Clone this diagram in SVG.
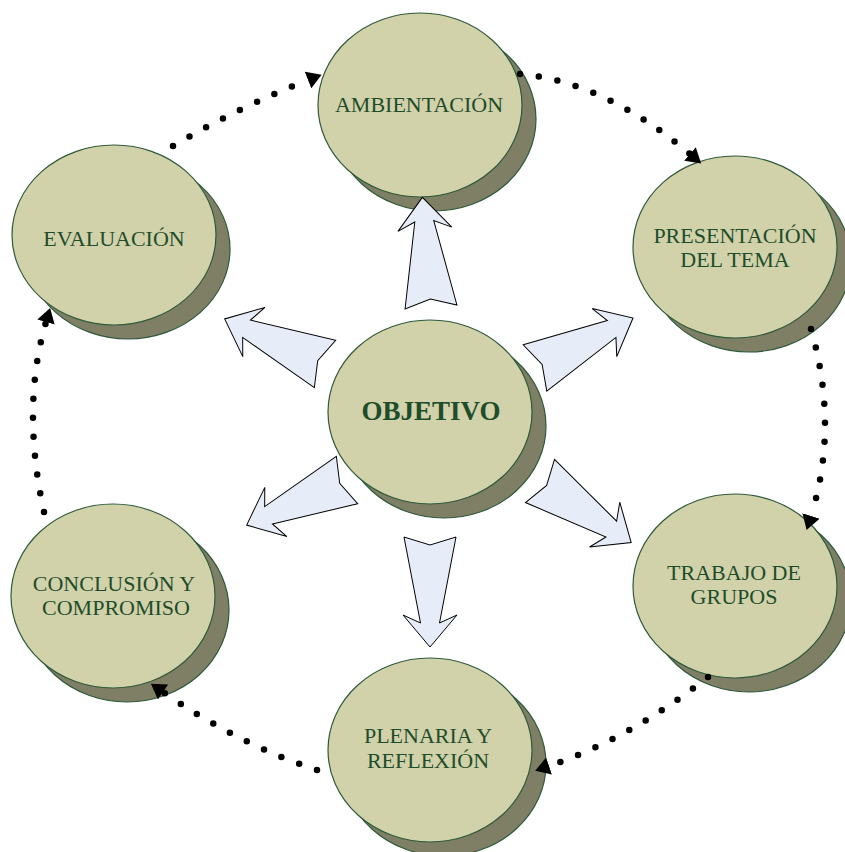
<svg xmlns="http://www.w3.org/2000/svg" width="845" height="852" viewBox="0 0 845 852">
<style>
.sh{fill:#7F7F66;stroke:#2D5A3A;stroke-width:1.2}
.mn{fill:#D2D2AA;stroke:#2D5A3A;stroke-width:1.2}
.t{font-family:"Liberation Serif","Times New Roman",serif;font-size:22px;fill:#1E4D2B;text-anchor:middle}
.tb{font-family:"Liberation Serif","Times New Roman",serif;font-size:27px;font-weight:bold;fill:#1E4D2B;text-anchor:middle}
.ba{fill:#E7EDF8;stroke:#000;stroke-width:1}
.dot{fill:none;stroke:#000;stroke-width:6.5;stroke-linecap:round;stroke-dasharray:0 19;marker-end:url(#ah)}
</style>
<defs>
<marker id="ah" markerUnits="userSpaceOnUse" markerWidth="16" markerHeight="18" refX="0" refY="8" orient="auto" viewBox="0 0 14 16">
<path d="M0,0 L13,8 L0,16 Z" fill="#000"/>
</marker>
<polygon id="barrow" points="0,-26 86,-9.5 78,-27 110,0 78,27 86,9.5 0,26 8,0"/>
</defs>
<rect width="845" height="852" fill="#fff"/>

<g id="node-ambientacion">
<ellipse class="sh" cx="434" cy="119" rx="102" ry="92"/>
<ellipse class="mn" cx="420" cy="105" rx="102" ry="92"/>
<text class="t" x="419" y="112">AMBIENTACIÓN</text>
</g>
<g id="node-presentacion">
<ellipse class="sh" cx="749" cy="261" rx="102" ry="91"/>
<ellipse class="mn" cx="735" cy="247" rx="102" ry="91"/>
<text class="t" x="735" y="243">PRESENTACIÓN</text>
<text class="t" x="735" y="267">DEL TEMA</text>
</g>
<g id="node-trabajo">
<ellipse class="sh" cx="749" cy="600" rx="102" ry="92"/>
<ellipse class="mn" cx="735" cy="586" rx="102" ry="92"/>
<text class="t" x="734" y="580">TRABAJO DE</text>
<text class="t" x="734" y="604">GRUPOS</text>
</g>
<g id="node-plenaria">
<ellipse class="sh" cx="444" cy="764" rx="102" ry="92"/>
<ellipse class="mn" cx="430" cy="750" rx="102" ry="92"/>
<text class="t" x="428" y="743">PLENARIA Y</text>
<text class="t" x="428" y="768">REFLEXIÓN</text>
</g>
<g id="node-conclusion">
<ellipse class="sh" cx="127" cy="610" rx="102" ry="92"/>
<ellipse class="mn" cx="113" cy="596" rx="102" ry="92"/>
<text class="t" x="114" y="591">CONCLUSIÓN Y</text>
<text class="t" x="116" y="615">COMPROMISO</text>
</g>
<g id="node-evaluacion">
<ellipse class="sh" cx="128" cy="249" rx="102" ry="90"/>
<ellipse class="mn" cx="114" cy="235" rx="102" ry="90"/>
<text class="t" x="114" y="246">EVALUACIÓN</text>
</g>
<g id="node-objetivo">
<ellipse class="sh" cx="444" cy="426" rx="102" ry="92"/>
<ellipse class="mn" cx="430" cy="412" rx="102" ry="92"/>
<text class="tb" x="431" y="420">OBJETIVO</text>
</g>

<g id="block-arrows">
<use href="#barrow" class="ba" transform="translate(431,307) rotate(-94.5)"/>
<use href="#barrow" class="ba" transform="translate(535,368) rotate(-27)"/>
<use href="#barrow" class="ba" transform="translate(540,481) rotate(34)"/>
<use href="#barrow" class="ba" transform="translate(430,537) rotate(90)"/>
<use href="#barrow" class="ba" transform="translate(347,480) rotate(155.8)"/>
<use href="#barrow" class="ba" transform="translate(325,364) rotate(204.2)"/>
</g>

<g id="connectors">
<path class="dot" d="M520,74 Q605,82 690,154"/>
<path class="dot" d="M811,329 Q839,427 811,516"/>
<path class="dot" d="M708,677 Q631,738 549,766"/>
<path class="dot" d="M317,770 Q240,745 163,692"/>
<path class="dot" d="M44,512 Q21,407 46,322"/>
<path class="dot" d="M173,146 Q239,107 308,80"/>
</g>
</svg>
